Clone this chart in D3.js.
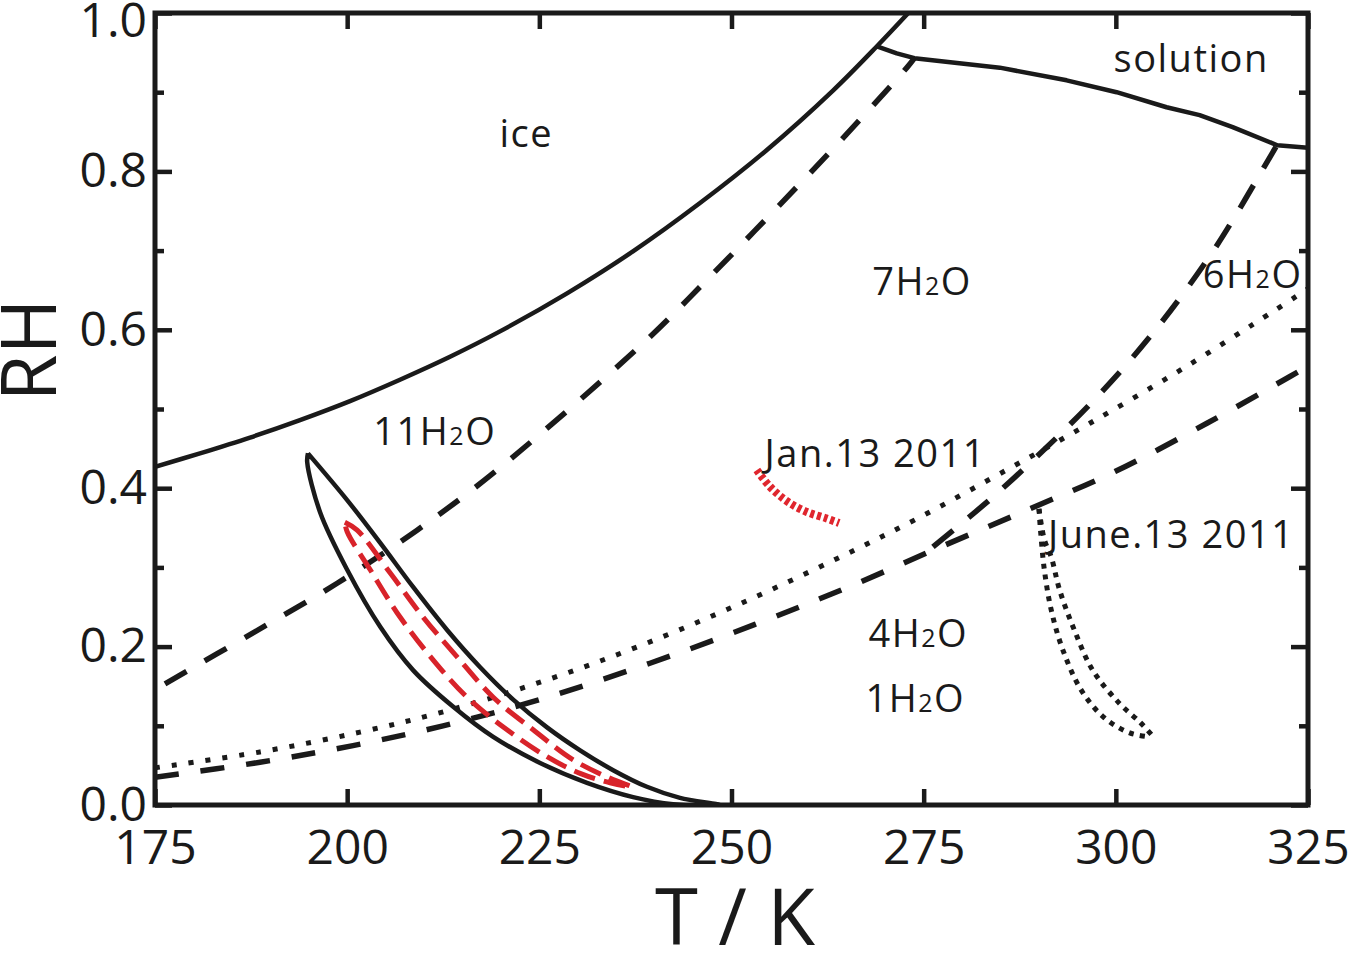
<!DOCTYPE html>
<html>
<head>
<meta charset="utf-8">
<script src="https://cdn.jsdelivr.net/npm/d3@7"></script>
<style>
  body { margin: 0; background: #fff; }
  svg { display: block; }
  .tick text { font-family: "Open Sans", sans-serif; font-size: 48px; fill: #1a1a1a; }
  .tick line { stroke: #1a1a1a; stroke-width: 4.5; }
  .lbl { font-family: "Open Sans", sans-serif; font-size: 38px; letter-spacing: 1.5px; fill: #1a1a1a; }
</style>
</head>
<body>
<script>
/////////////
/// DATA  ///
/////////////

// axis ticks
var xTicks = [175, 200, 225, 250, 275, 300, 325];
var yMajor = [0.0, 0.2, 0.4, 0.6, 0.8, 1.0];
var yMinor = [0.1, 0.3, 0.5, 0.7, 0.9];

// ice line (solid), T in K and RH
var iceT  = [175, 180.85, 187.36, 193.86, 200.37, 206.87, 213.38, 219.88, 228.6, 237.18, 245.9, 254.6, 263.2, 268.92, 273.0];
var iceRH = [0.427, 0.444, 0.464, 0.486, 0.510, 0.537, 0.566, 0.598, 0.646, 0.699, 0.760, 0.827, 0.902, 0.958, 1.0];

// solution boundary (solid), starts at the ice line
var solT  = [268.92, 271.5, 273.8, 284.9, 293.6, 300.1, 306.6, 310.9, 315.2, 321.0, 325];
var solRH = [0.958, 0.949, 0.943, 0.931, 0.915, 0.900, 0.881, 0.871, 0.856, 0.833, 0.830];

// 11H2O / 7H2O boundary (dashed)
var b11T  = [176.3, 187.7, 198.7, 209.1, 219.0, 238.5, 247.2, 255.9, 264.5, 272.9, 273.8];
var b11RH = [0.153, 0.217, 0.280, 0.347, 0.419, 0.583, 0.667, 0.754, 0.842, 0.932, 0.943];

// lower dashed boundary
var b4T  = [175, 188.66, 200.76, 212.47, 224.69, 239.39, 253.05, 265.15, 277.25, 288.83, 299.89, 311.85, 321.74, 325];
var b4RH = [0.035, 0.054, 0.075, 0.100, 0.132, 0.179, 0.228, 0.275, 0.326, 0.374, 0.421, 0.482, 0.536, 0.554];

// 6H2O boundary (steep dashed)
var b6T  = [276.21, 282.58, 286.88, 292.21, 296.63, 300.92, 304.83, 308.34, 312.63, 315.24, 318.36, 320.83];
var b6RH = [0.326, 0.377, 0.414, 0.463, 0.506, 0.551, 0.596, 0.640, 0.699, 0.739, 0.790, 0.831];

// dotted boundary
var b1T  = [175, 188.66, 201.67, 213.38, 226.0, 238.1, 251.1, 263.7, 274.24, 286.34, 296.62, 308.72, 320.43, 325];
var b1RH = [0.047, 0.067, 0.092, 0.120, 0.158, 0.201, 0.254, 0.311, 0.362, 0.426, 0.482, 0.551, 0.623, 0.652];

// solid loop: upper branch from tip, lower branch from tip
var loopUpT  = [194.9, 200.0, 204.3, 208.6, 213.0, 217.3, 221.6, 226.0, 230.3, 234.6, 239.0, 243.3, 248.5];
var loopUpRH = [0.444, 0.385, 0.331, 0.275, 0.221, 0.174, 0.133, 0.098, 0.069, 0.044, 0.023, 0.009, 0.0];
var loopLoT  = [194.8, 196.5, 200.0, 204.3, 208.6, 213.8, 219.0, 225.1, 231.2, 237.2, 242.4];
var loopLoRH = [0.433, 0.369, 0.297, 0.225, 0.170, 0.124, 0.086, 0.053, 0.028, 0.010, 0.001];

// red dashed loop
var redUpT  = [199.7, 201.3, 205.6, 209.9, 214.3, 219.0, 224.2, 229.4, 234.6, 237.0];
var redUpRH = [0.357, 0.347, 0.293, 0.237, 0.187, 0.136, 0.095, 0.057, 0.032, 0.023];
var redLoT  = [200.0, 203.0, 206.9, 211.2, 215.6, 220.8, 226.0, 230.3, 234.2];
var redLoRH = [0.345, 0.297, 0.237, 0.183, 0.136, 0.095, 0.061, 0.040, 0.028];

// Jan.13 2011 (red dotted)
var janT  = [253.3, 255.0, 257.3, 259.8, 262.3, 264.0];
var janRH = [0.423, 0.402, 0.383, 0.370, 0.362, 0.356];

// June.13 2011 (black dotted, two traces)
var juneAT  = [290.0, 290.2, 290.7, 291.6, 293.1, 295.5, 298.4, 301.8, 304.4];
var juneARH = [0.374, 0.347, 0.297, 0.246, 0.196, 0.145, 0.111, 0.091, 0.086];
var juneBT  = [290.0, 290.7, 291.6, 292.7, 294.6, 297.0, 300.4, 303.2, 304.8];
var juneBRH = [0.374, 0.335, 0.313, 0.271, 0.221, 0.170, 0.129, 0.104, 0.087];

// region labels
var labels = [
  {t: "ice", T: 223.3, RH: 0.831},
  {t: "solution", T: 309.8, RH: 0.925},
  {t: "7H|2|O", T: 274.8, RH: 0.644},
  {t: "6H|2|O", T: 317.8, RH: 0.653},
  {t: "11H|2|O", T: 211.4, RH: 0.455},
  {t: "Jan.13 2011", T: 268.7, RH: 0.427},
  {t: "June.13 2011", T: 307.2, RH: 0.324},
  {t: "4H|2|O", T: 274.3, RH: 0.199},
  {t: "1H|2|O", T: 273.9, RH: 0.117}
];

/////////////////
/// SETUP VIZ ///
/////////////////

var W = 1361, H = 955;
var x = d3.scaleLinear().domain([175, 325]).range([155, 1308]);
var y = d3.scaleLinear().domain([0, 1]).range([805, 13]);

var svg = d3.select("body").append("svg")
    .attr("width", W)
    .attr("height", H);

svg.append("defs").append("clipPath").attr("id", "plot")
  .append("rect")
    .attr("x", x(175)).attr("y", y(1))
    .attr("width", x(325) - x(175)).attr("height", y(0) - y(1));

function zip(ts, rhs) { return ts.map(function(t, i) { return [t, rhs[i]]; }); }

var line = d3.line()
    .x(function(d) { return x(d[0]); })
    .y(function(d) { return y(d[1]); })
    .curve(d3.curveCatmullRom.alpha(0.5));

var lineLin = d3.line()
    .x(function(d) { return x(d[0]); })
    .y(function(d) { return y(d[1]); });

var g = svg.append("g").attr("clip-path", "url(#plot)");

function draw(pts, opts, gen) {
  g.append("path")
      .attr("d", (gen || line)(pts))
      .attr("fill", "none")
      .attr("stroke", opts.color || "#1a1a1a")
      .attr("stroke-width", opts.w || 4)
      .attr("stroke-dasharray", opts.dash || null)
      .attr("stroke-linejoin", "round");
}

// solid boundaries
draw(zip(iceT, iceRH), {w: 4.5});
draw(zip(solT, solRH), {w: 4.5}, lineLin);

// dashed boundaries
draw(zip(b11T, b11RH), {w: 5.5, dash: "25,21"});
draw(zip(b4T, b4RH), {w: 5.5, dash: "24,22"});
draw(zip(b6T, b6RH), {w: 5.5, dash: "26,20"});

// dotted boundary
draw(zip(b1T, b1RH), {w: 5, dash: "5,12"});

// solid loop (closed through tip)
var loop = zip(loopUpT, loopUpRH).concat(zip(loopLoT, loopLoRH).reverse(), [[loopUpT[0], loopUpRH[0]]]);
draw(loop, {w: 4.5});

// red dashed loop
var redLoop = zip(redUpT, redUpRH).concat(zip(redLoT, redLoRH).reverse(), [[redUpT[0], redUpRH[0]]]);
draw(redLoop, {w: 5, dash: "22,9", color: "#d8232a"});

// Jan and June trajectories
draw(zip(janT, janRH), {w: 8, dash: "4,3", color: "#e0262e"});
draw(zip(juneAT, juneARH), {w: 5, dash: "5,6"});
draw(zip(juneBT, juneBRH), {w: 5, dash: "5,6"});

// labels with subscripts
labels.forEach(function(l) {
  var parts = l.t.split("|");
  var txt = svg.append("text")
      .attr("class", "lbl")
      .attr("x", x(l.T))
      .attr("y", y(l.RH))
      .attr("text-anchor", "middle");
  parts.forEach(function(p, i) {
    var ts = txt.append("tspan").text(p);
    if (i === 1) ts.style("font-size", "25px");
  });
});

////////////
/// AXES ///
////////////

var fmt = d3.format(".1f");

svg.append("g")
    .attr("transform", "translate(0," + y(0) + ")")
    .call(d3.axisBottom(x).tickValues(xTicks).tickSizeInner(-16).tickSizeOuter(0).tickPadding(25));
svg.append("g")
    .attr("transform", "translate(0," + y(1) + ")")
    .call(d3.axisTop(x).tickValues(xTicks).tickSizeInner(-16).tickSizeOuter(0).tickFormat(""));
var yAxisG = svg.append("g")
    .attr("transform", "translate(" + x(175) + ",0)")
    .call(d3.axisLeft(y).tickValues(yMajor).tickSizeInner(-17).tickSizeOuter(0).tickPadding(8).tickFormat(fmt));
svg.append("g")
    .attr("transform", "translate(" + x(175) + ",0)")
    .call(d3.axisLeft(y).tickValues(yMinor).tickSizeInner(-9).tickSizeOuter(0).tickFormat(""));
svg.append("g")
    .attr("transform", "translate(" + x(325) + ",0)")
    .call(d3.axisRight(y).tickValues(yMajor).tickSizeInner(-17).tickSizeOuter(0).tickFormat(""));
svg.append("g")
    .attr("transform", "translate(" + x(325) + ",0)")
    .call(d3.axisRight(y).tickValues(yMinor).tickSizeInner(-9).tickSizeOuter(0).tickFormat(""));

// top label sits a little lower so it stays on the page
yAxisG.selectAll(".tick text").filter(function(d) { return d === 1; }).attr("dy", "0.48em");

svg.selectAll(".domain").remove();

// frame
svg.append("rect")
    .attr("x", x(175)).attr("y", y(1))
    .attr("width", x(325) - x(175)).attr("height", y(0) - y(1))
    .attr("fill", "none")
    .attr("stroke", "#1a1a1a")
    .attr("stroke-width", 5);

// axis titles
svg.append("text")
    .attr("transform", "translate(56,350) rotate(-90)")
    .attr("text-anchor", "middle")
    .style("font-family", "'Open Sans', sans-serif")
    .style("font-size", "76px")
    .style("fill", "#1a1a1a")
    .text("RH");

svg.append("text")
    .attr("x", 735)
    .attr("y", 945)
    .attr("text-anchor", "middle")
    .style("font-family", "'Open Sans', sans-serif")
    .style("font-size", "78px")
    .style("fill", "#1a1a1a")
    .text("T / K");
</script>
</body>
</html>
